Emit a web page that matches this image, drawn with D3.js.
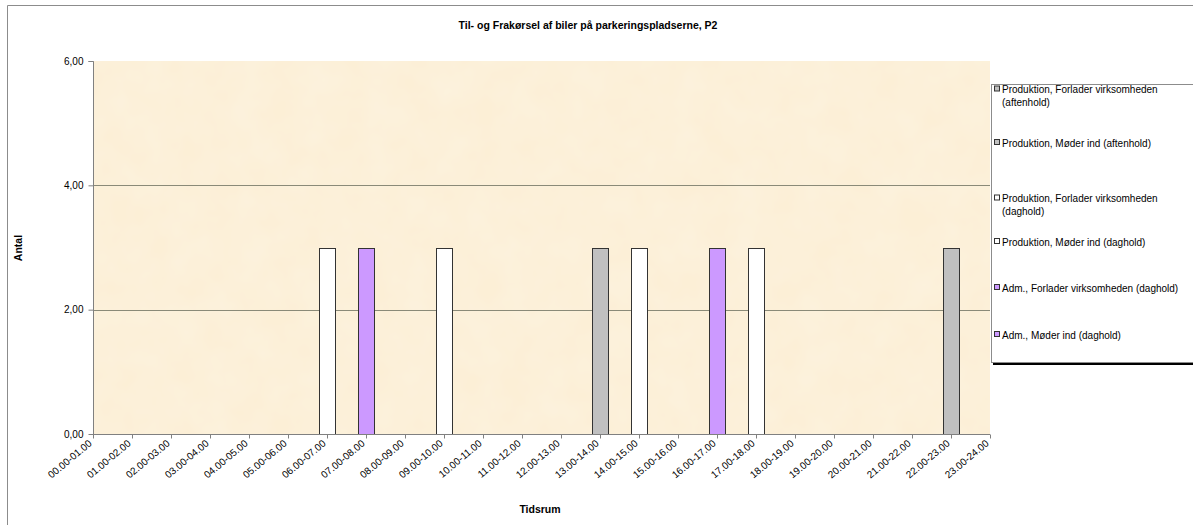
<!DOCTYPE html>
<html><head><meta charset="utf-8">
<script src="https://cdn.jsdelivr.net/npm/d3@7"></script>
<style>body{margin:0;background:#fff;} svg{display:block;font-family:"Liberation Sans",Arial,sans-serif;}</style>
</head><body>
<svg id="chart" width="1193" height="525"></svg>
<script>
const categories = ["00.00-01.00","01.00-02.00","02.00-03.00","03.00-04.00","04.00-05.00","05.00-06.00","06.00-07.00","07.00-08.00","08.00-09.00","09.00-10.00","10.00-11.00","11.00-12.00","12.00-13.00","13.00-14.00","14.00-15.00","15.00-16.00","16.00-17.00","17.00-18.00","18.00-19.00","19.00-20.00","20.00-21.00","21.00-22.00","22.00-23.00","23.00-24.00"];
const seriesNames = ["Produktion, Forlader virksomheden (aftenhold)","Produktion, Møder ind (aftenhold)","Produktion, Forlader virksomheden (daghold)","Produktion, Møder ind (daghold)","Adm., Forlader virksomheden (daghold)","Adm., Møder ind (daghold)"];
const seriesColors = ["#C0C0C0","#C0C0C0","#FFFFFF","#FFFFFF","#CC99FF","#CC99FF"];
const prodForladerAften = [0,0,0,0,0,0,0,0,0,0,0,0,0,0,0,0,0,0,0,0,0,0,3,0];
const prodModerAften    = [0,0,0,0,0,0,0,0,0,0,0,0,0,3,0,0,0,0,0,0,0,0,0,0];
const prodForladerDag   = [0,0,0,0,0,0,0,0,0,3,0,0,0,0,3,0,0,3,0,0,0,0,0,0];
const prodModerDag      = [0,0,0,0,0,0,3,0,0,0,0,0,0,0,0,0,0,0,0,0,0,0,0,0];
const admForlader       = [0,0,0,0,0,0,0,0,0,0,0,0,0,0,0,0,3,0,0,0,0,0,0,0];
const admModer          = [0,0,0,0,0,0,0,3,0,0,0,0,0,0,0,0,0,0,0,0,0,0,0,0];
const seriesValues = [prodForladerAften, prodModerAften, prodForladerDag, prodModerDag, admForlader, admModer];
const yTicks = [0,2,4,6];
const title = "Til- og Frakørsel af biler på parkeringspladserne, P2";
const xTitle = "Tidsrum", yTitle = "Antal";

const svg = d3.select("#chart");
const M = {left:93, right:990, top:61, bottom:434};

// outer chart border
svg.append("path").attr("d","M7.5,530 V5.5 H1200").attr("fill","none").attr("stroke","#8c8c8c").attr("stroke-width",1);

// plot background (parchment)
const defs = svg.append("defs");
const f = defs.append("filter").attr("id","paper").attr("x",0).attr("y",0).attr("width","100%").attr("height","100%");
f.append("feTurbulence").attr("type","fractalNoise").attr("baseFrequency","0.03").attr("numOctaves",3).attr("seed",4).attr("result","n");
f.append("feColorMatrix").attr("in","n").attr("type","matrix")
 .attr("values","0 0 0 0 1  0 0 0 0 0.97  0 0 0 0 0.90  0 0 0 0.6 -0.1").attr("result","c");
f.append("feComposite").attr("in","c").attr("in2","SourceGraphic").attr("operator","atop");

svg.append("rect").attr("x",M.left).attr("y",M.top).attr("width",M.right-M.left).attr("height",M.bottom-M.top)
  .attr("fill","#FCEFD6");
svg.append("rect").attr("x",M.left).attr("y",M.top).attr("width",M.right-M.left).attr("height",M.bottom-M.top)
  .attr("fill","#FCEFD6").attr("filter","url(#paper)").attr("opacity",0.5);

const x = d3.scalePoint().domain(categories).range([M.left, M.right]).padding(0);
const y = d3.scaleLinear().domain([0,6]).range([M.bottom, M.top]);

// gridlines
svg.append("g").selectAll("line").data(yTicks.filter(t=>t>0 && t<6)).join("line")
  .attr("x1",M.left).attr("x2",M.right).attr("y1",d=>Math.round(y(d))+0.5).attr("y2",d=>Math.round(y(d))+0.5)
  .attr("stroke","#8a8a78").attr("stroke-width",1);

// bars (stacked)
const rows = categories.map((c,i)=>{const r={cat:c}; seriesNames.forEach((s,j)=>r[s]=seriesValues[j][i]); return r;});
const stack = d3.stack().keys(seriesNames)(rows);
const bw = 16;
stack.forEach((layer,j)=>{
  svg.append("g").selectAll("rect").data(layer.filter(d=>d[1]-d[0]>0)).join("rect")
    .attr("x",d=>Math.round(x(d.data.cat)-bw/2)+0.5)
    .attr("y",d=>Math.round(y(d[1]))+0.5)
    .attr("width",bw)
    .attr("height",d=>Math.round(y(d[0]))-Math.round(y(d[1])))
    .attr("fill",seriesColors[j]).attr("stroke","#333").attr("stroke-width",1);
});

// y axis
const ya = svg.append("g").attr("transform",`translate(${M.left+0.5},0)`)
  .call(d3.axisLeft(y).tickValues(yTicks).tickSize(5).tickPadding(5).tickFormat(d=>d3.format(".2f")(d).replace(".",",")));
ya.select(".domain").attr("stroke","#808080").attr("d",`M-5,${M.top+0.5}H0V${M.bottom+0.5}`);
ya.selectAll(".tick line").attr("stroke","#808080");
ya.selectAll("text").attr("font-size",10).attr("fill","#000").attr("font-family","Liberation Sans, Arial, sans-serif");

// x axis
const xa = svg.append("g").attr("transform",`translate(0,${M.bottom+0.5})`)
  .call(d3.axisBottom(x).tickSize(4).tickPadding(4));
xa.select(".domain").attr("stroke","#808080").attr("d",`M${M.left},0H${M.right}`);
xa.selectAll(".tick line").attr("stroke","#808080");
xa.selectAll("text").attr("font-size",10).attr("fill","#000").attr("font-family","Liberation Sans, Arial, sans-serif")
  .attr("text-anchor","end").attr("dy",0).attr("y",0)
  .attr("transform","translate(-1,10) rotate(-40)");

// titles
svg.append("text").attr("x",588).attr("y",29).attr("text-anchor","middle").attr("font-size",10.5).attr("font-weight","bold").text(title);
svg.append("text").attr("x",540).attr("y",513).attr("text-anchor","middle").attr("font-size",10.5).attr("font-weight","bold").text(xTitle);
svg.append("text").attr("transform","translate(22,248) rotate(-90)").attr("text-anchor","middle").attr("font-size",10.5).attr("font-weight","bold").text(yTitle);

// legend
const L = {x:991, top:84, bottom:362};
svg.append("rect").attr("x",993).attr("y",L.bottom+0.5).attr("width",210).attr("height",2.5).attr("fill","#000");
svg.append("rect").attr("x",L.x+0.5).attr("y",L.top+0.5).attr("width",220).attr("height",L.bottom-L.top).attr("fill","#fff").attr("stroke","#8c8c8c");
const legendY = [96,143,205,242,288,335];
const wrap = s => s.startsWith("Produktion, Forlader") ? [s.slice(0,s.lastIndexOf(" (")), s.slice(s.lastIndexOf(" (")+1)] : [s];
seriesNames.forEach((s,i)=>{
  const lines = wrap(s);
  const y0 = legendY[i] - (lines.length-1)*6.5;
  const g = svg.append("g");
  g.append("rect").attr("x",994.5).attr("y",y0-3.5).attr("width",5).attr("height",5).attr("fill",seriesColors[i]).attr("stroke","#333");
  lines.forEach((t,k)=>g.append("text").attr("x",1002).attr("y",y0+k*13).attr("dy","0.35em").attr("font-size",10).text(t));
});
</script>
</body></html>
